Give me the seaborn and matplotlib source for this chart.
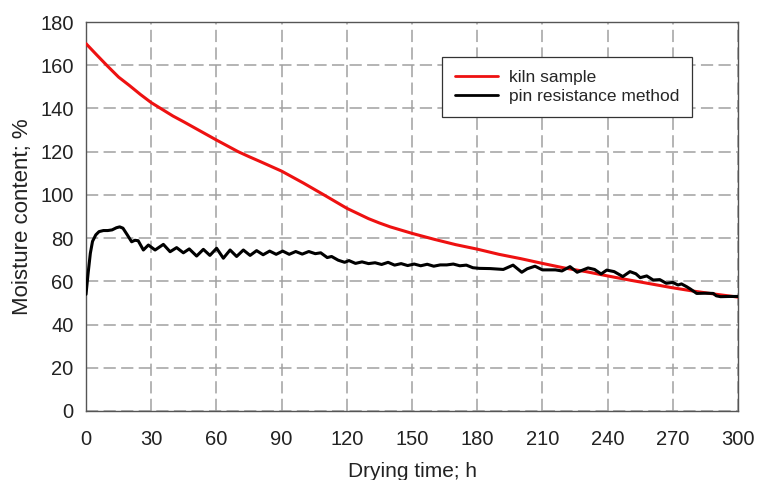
import matplotlib
matplotlib.use("Agg")
import matplotlib.pyplot as plt
import seaborn as sns
import pandas as pd

# Kiln sample (red)
kiln_t = [0, 5, 10, 15, 20, 25, 30, 40, 45, 50, 60, 70, 75, 80, 90, 100, 105, 110,
          120, 130, 135, 140, 150, 160, 170, 180, 190, 200, 210, 220, 230, 240,
          250, 260, 270, 280, 290, 300]
kiln_mc = [170, 164.7, 159.5, 154.5, 150.6, 146.5, 142.7, 136.5, 133.8, 131, 125.4,
           120, 117.7, 115.5, 111, 105.5, 102.6, 99.7, 93.8, 89, 87, 85.2, 82.2, 79.5,
           77, 74.9, 72.5, 70.5, 68.3, 66.2, 64.5, 62.5, 60.6, 58.8, 57.0, 55.4, 54.0, 52.7]

# Pin resistance method (black)
pin_t = [0, 1, 2, 3, 4.5, 6, 8, 10, 12, 14, 15.5, 17, 19, 21, 22.5, 24, 26.4, 28.7,
         31.8, 35.6, 38.7, 41.7, 44.8, 47.5, 50.9, 54, 57, 60.1, 63.2, 66.3, 69.3,
         72.4, 75.5, 78.5, 81.5, 84.5, 87.5, 90.5, 93.5, 96.5, 99.5, 102.5, 105.5,
         108, 111, 113, 116, 119, 121, 124, 127, 130, 133, 136, 139, 142, 145, 148,
         151, 154, 157, 160, 163, 166, 169, 172, 175, 178, 181, 186, 192, 196.5,
         200.5, 203, 206.6, 210, 216, 219, 222.7, 226, 231, 234, 237, 239.6, 243,
         247, 250.3, 253, 255, 258, 261, 264, 267, 270, 272.4, 274, 276.4, 278, 281,
         285, 288.6, 290, 292, 296, 300]
pin_mc = [54, 64, 73, 78.5, 81.5, 83, 83.5, 83.5, 83.8, 84.8, 85.2, 84.6, 81.5, 78.3,
          79.0, 78.8, 74.5, 76.8, 74.5, 77.1, 73.7, 75.6, 73.2, 75.0, 71.7, 74.8, 72.0,
          75.3, 70.7, 74.5, 71.5, 74.5, 72.0, 74.2, 72.3, 74.0, 72.5, 74.0, 72.5, 73.8,
          72.6, 73.8, 72.8, 73.2, 71.0, 71.5, 69.8, 68.8, 69.6, 68.3, 69.0, 68.2, 68.6,
          67.8, 68.8, 67.5, 68.2, 67.3, 68.0, 67.2, 67.9, 67.0, 67.6, 67.6, 68.0, 67.2,
          67.5, 66.3, 66.0, 65.9, 65.5, 67.5, 64.2, 65.8, 67.0, 65.3, 65.3, 64.8, 66.8,
          64.2, 66.2, 65.5, 63.4, 65.2, 64.5, 62.2, 64.5, 63.5, 61.7, 62.5, 60.6, 60.8,
          59.1, 59.5, 58.3, 58.8, 57.5, 56.5, 54.4, 54.5, 54.4, 53.3, 52.9, 53.0, 53.0]

x_ticks = list(range(0, 301, 30))
y_ticks = list(range(0, 181, 20))

sns.set_style("white")
plt.rcParams['font.family'] = ['Liberation Sans', 'DejaVu Sans']

fig = plt.figure(figsize=(7.58, 4.8), dpi=100)
ax = fig.add_axes([86 / 758, 1 - 411 / 480, 652 / 758, 389 / 480])

df_k = pd.DataFrame({"t": kiln_t, "mc": kiln_mc})
df_p = pd.DataFrame({"t": pin_t, "mc": pin_mc})

sns.lineplot(data=df_k, x="t", y="mc", ax=ax, color="#ee1111", linewidth=2.2,
             label="kiln sample", zorder=3)
sns.lineplot(data=df_p, x="t", y="mc", ax=ax, color="black", linewidth=2.2,
             label="pin resistance method", zorder=4)

ax.set_xlim(0, 300)
ax.set_ylim(0, 180)
ax.set_xticks(x_ticks)
ax.set_yticks(y_ticks)
ax.tick_params(axis="both", labelsize=14.5, length=0, colors="#222222")
ax.tick_params(axis="x", pad=14)
ax.tick_params(axis="y", pad=9)
ax.set_xlabel("Drying time; h", fontsize=15, color="#222222", labelpad=9)
ax.set_ylabel("Moisture content; %", fontsize=16, color="#222222", labelpad=5)

ax.grid(True, color="#a0a0a0", linestyle=(0, (8, 3.5)), linewidth=1.1)
ax.set_axisbelow(True)
for s in ax.spines.values():
    s.set_color("#555555")
    s.set_linewidth(1.0)
    s.set_visible(True)

leg = ax.legend(loc="upper left", bbox_to_anchor=(0.5455, 0.911), fontsize=12.5,
                frameon=True, fancybox=False, shadow=False, handlelength=2.5,
                borderpad=0.75, labelspacing=0.25, handletextpad=0.6, borderaxespad=0)
leg.get_frame().set_edgecolor("#333333")
leg.get_frame().set_linewidth(0.9)
leg.get_frame().set_alpha(1)
for line in leg.get_lines():
    line.set_linewidth(2.0)

fig.savefig("out.png", dpi=100)
